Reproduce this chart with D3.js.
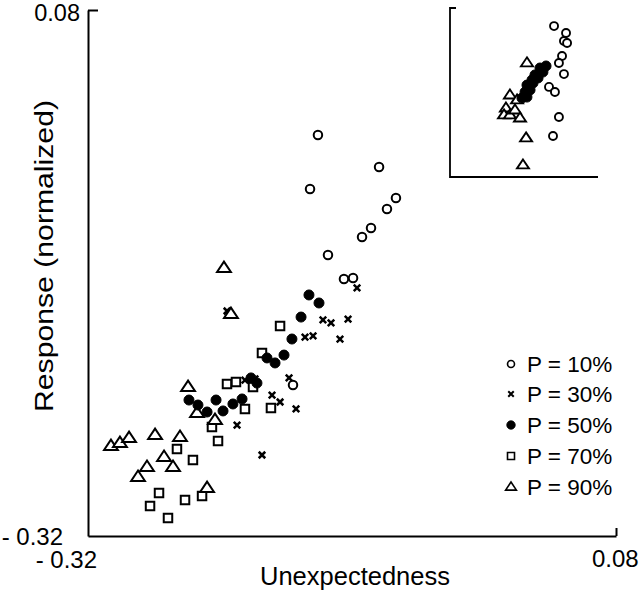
<!DOCTYPE html>
<html><head><meta charset="utf-8">
<script src="https://cdn.jsdelivr.net/npm/d3@7"></script>
<style>
body{margin:0;background:#fff}
svg{display:block}
text{font-family:"Liberation Sans",Arial,Helvetica,sans-serif;fill:#000}
</style>
</head><body>
<svg id="c" width="640" height="592"></svg>
<script>
// ---- data ----
const seriesLabels = ["P = 10%", "P = 30%", "P = 50%", "P = 70%", "P = 90%"];
const seriesShapes = ["circle", "cross", "dot", "square", "triangle"];
const axisTicks = [-0.32, 0.08];
const axisTickLabels = ["- 0.32", "0.08"];
const xTitle = "Unexpectedness";
const yTitle = "Response (normalized)";

const p10x = [-0.1458, -0.0995, -0.1518, -0.0867, -0.0935, -0.1056, -0.1124, -0.1382, -0.1261, -0.1192, -0.1647];
const p10y = [-0.0151, -0.0394, -0.0561, -0.0630, -0.0713, -0.0858, -0.0926, -0.1063, -0.1246, -0.1238, -0.2052];

const p30x = [-0.1162, -0.1420, -0.1359, -0.1230, -0.1556, -0.1495, -0.1291, -0.1677, -0.1806, -0.1745, -0.1624, -0.2011, -0.1935, -0.2071, -0.1882, -0.2147];
const p30y = [-0.1314, -0.1557, -0.1580, -0.1550, -0.1687, -0.1679, -0.1702, -0.1998, -0.2128, -0.2181, -0.2234, -0.2014, -0.2006, -0.2356, -0.2584, -0.1489];

const p50x = [-0.1526, -0.1450, -0.1586, -0.1655, -0.1715, -0.1783, -0.1844, -0.1965, -0.1920, -0.2033, -0.2102, -0.2177, -0.2230, -0.2298, -0.2367, -0.2435];
const p50y = [-0.1367, -0.1428, -0.1535, -0.1702, -0.1824, -0.1884, -0.1846, -0.1998, -0.2037, -0.2158, -0.2196, -0.2249, -0.2166, -0.2257, -0.2204, -0.2166];

const p70x = [-0.1745, -0.1882, -0.2147, -0.2079, -0.1950, -0.2011, -0.1814, -0.2261, -0.2215, -0.2526, -0.2405, -0.2662, -0.2730, -0.2465, -0.2336, -0.2594];
const p70y = [-0.1603, -0.1808, -0.2044, -0.2029, -0.2067, -0.2234, -0.2227, -0.2371, -0.2478, -0.2538, -0.2622, -0.2873, -0.2972, -0.2926, -0.2896, -0.3063];

const p90x = [-0.2170, -0.2117, -0.2442, -0.2374, -0.2238, -0.3026, -0.2958, -0.2889, -0.2692, -0.2503, -0.2624, -0.2753, -0.2556, -0.2821, -0.2298];
const p90y = [-0.1162, -0.1512, -0.2067, -0.2265, -0.2318, -0.2516, -0.2493, -0.2455, -0.2432, -0.2447, -0.2599, -0.2675, -0.2675, -0.2751, -0.2835];

// inset (relative units 0..1)
const inset10x = [0.703, 0.784, 0.770, 0.791, 0.757, 0.736, 0.770, 0.669, 0.709, 0.736, 0.696];
const inset10y = [0.893, 0.852, 0.805, 0.793, 0.716, 0.675, 0.609, 0.533, 0.503, 0.355, 0.243];
const inset50x = [0.649, 0.608, 0.628, 0.574, 0.595, 0.554, 0.561, 0.520, 0.541, 0.507, 0.520, 0.486];
const inset50y = [0.657, 0.645, 0.621, 0.604, 0.586, 0.574, 0.556, 0.544, 0.515, 0.503, 0.473, 0.467];
const inset90x = [0.520, 0.405, 0.453, 0.378, 0.365, 0.405, 0.439, 0.473, 0.514, 0.493];
const inset90y = [0.675, 0.485, 0.456, 0.408, 0.367, 0.367, 0.396, 0.349, 0.231, 0.071];

// ---- drawing ----
const svg = d3.select("#c");
const x = d3.scaleLinear().domain([-0.32, 0.08]).range([88, 616]);
const y = d3.scaleLinear().domain([-0.32, 0.08]).range([536, 10]);

function markerPath(shape, s) {
  if (shape === "circle" || shape === "dot") {
    const r = s / 2;
    return `M${-r},0a${r},${r} 0 1,0 ${2*r},0a${r},${r} 0 1,0 ${-2*r},0Z`;
  }
  if (shape === "square") {
    const h = s / 2;
    return `M${-h},${-h}H${h}V${h}H${-h}Z`;
  }
  if (shape === "triangle") {
    const w = s * 0.6, ht = s * 0.9;
    return `M0,${-ht*0.62}L${w},${ht*0.38}L${-w},${ht*0.38}Z`;
  }
  if (shape === "cross") {
    const h = s / 2;
    return `M${-h},${-h}L${h},${h}M${-h},${h}L${h},${-h}`;
  }
}
function styleMarker(sel, shape, sw) {
  if (shape === "dot") sel.attr("fill", "#000").attr("stroke", "#000").attr("stroke-width", sw * 0.5);
  else if (shape === "cross") sel.attr("fill", "none").attr("stroke", "#000").attr("stroke-width", sw * 1.25);
  else sel.attr("fill", "#fff").attr("stroke", "#000").attr("stroke-width", sw).attr("stroke-linejoin", "miter");
}

const mainSeries = [
  {shape: "circle", xs: p10x, ys: p10y, size: 8.5},
  {shape: "cross", xs: p30x, ys: p30y, size: 6.5},
  {shape: "square", xs: p70x, ys: p70y, size: 8.5},
  {shape: "triangle", xs: p90x, ys: p90y, size: 11.5},
  {shape: "dot", xs: p50x, ys: p50y, size: 10}
];

// axes
const yAxis = d3.axisLeft(y).tickValues([0.08]).tickSize(-10).tickSizeOuter(0).tickFormat("");
const xAxis = d3.axisBottom(x).tickValues([0.08]).tickSize(-8).tickSizeOuter(0).tickFormat("");
const gy = svg.append("g").attr("transform", `translate(${x(-0.32)},0)`).call(yAxis);
const gx = svg.append("g").attr("transform", `translate(0,${y(-0.32)})`).call(xAxis);
[gy, gx].forEach(g => {
  g.selectAll("path,line").attr("stroke", "#000").attr("stroke-width", 2);
});

// tick labels
svg.append("text").attr("x", 80).attr("y", y(0.08) + 11).attr("text-anchor", "end")
  .attr("font-size", 23.5).text(axisTickLabels[1]);
svg.append("text").attr("x", 63).attr("y", y(-0.32) + 9).attr("text-anchor", "end")
  .attr("font-size", 24).text(axisTickLabels[0]);
svg.append("text").attr("x", 97).attr("y", 568).attr("text-anchor", "end")
  .attr("font-size", 24).text(axisTickLabels[0]);
svg.append("text").attr("x", x(0.08) - 24).attr("y", 567).attr("text-anchor", "start")
  .attr("font-size", 24).text(axisTickLabels[1]);

// titles
svg.append("text").attr("x", 355).attr("y", 585).attr("text-anchor", "middle")
  .attr("font-size", 25).attr("textLength", 190).attr("lengthAdjust", "spacingAndGlyphs").text(xTitle);
svg.append("text").attr("transform", "translate(53,256) rotate(-90)").attr("text-anchor", "middle")
  .attr("font-size", 25).attr("textLength", 312).attr("lengthAdjust", "spacingAndGlyphs").text(yTitle);

// main points
mainSeries.forEach(s => {
  const data = s.xs.map((v, i) => [v, s.ys[i]]);
  const sel = svg.append("g").selectAll("path").data(data).join("path")
    .attr("transform", d => `translate(${x(d[0])},${y(d[1])})`)
    .attr("d", markerPath(s.shape, s.size));
  styleMarker(sel, s.shape, 2);
});

// inset
const ix = d3.scaleLinear().domain([0, 1]).range([450, 598]);
const iy = d3.scaleLinear().domain([0, 1]).range([177, 8]);
const inset = svg.append("g");
inset.append("path").attr("d", `M${ix(0)+6},${iy(1)}H${ix(0)}V${iy(0)}H${ix(1)}`)
  .attr("fill", "none").attr("stroke", "#000").attr("stroke-width", 1.8);
const insetSeries = [
  {shape: "circle", xs: inset10x, ys: inset10y, size: 8},
  {shape: "triangle", xs: inset90x, ys: inset90y, size: 10},
  {shape: "dot", xs: inset50x, ys: inset50y, size: 10}
];
insetSeries.forEach(s => {
  const data = s.xs.map((v, i) => [v, s.ys[i]]);
  const sel = inset.append("g").selectAll("path").data(data).join("path")
    .attr("transform", d => `translate(${ix(d[0])},${iy(d[1])})`)
    .attr("d", markerPath(s.shape, s.size));
  styleMarker(sel, s.shape, 1.9);
});

// legend
const legendY = [364, 394, 425, 456, 487];
const lg = svg.append("g");
seriesLabels.forEach((lab, i) => {
  const shape = seriesShapes[i];
  const sz = {circle: 7, cross: 5.5, dot: 8.5, square: 7, triangle: 9}[shape];
  const m = lg.append("path").attr("transform", `translate(511,${legendY[i]})`).attr("d", markerPath(shape, sz));
  styleMarker(m, shape, 1.6);
  lg.append("text").attr("x", 527).attr("y", legendY[i] + 8).attr("font-size", 22.5).text(lab);
});
</script>
</body></html>
